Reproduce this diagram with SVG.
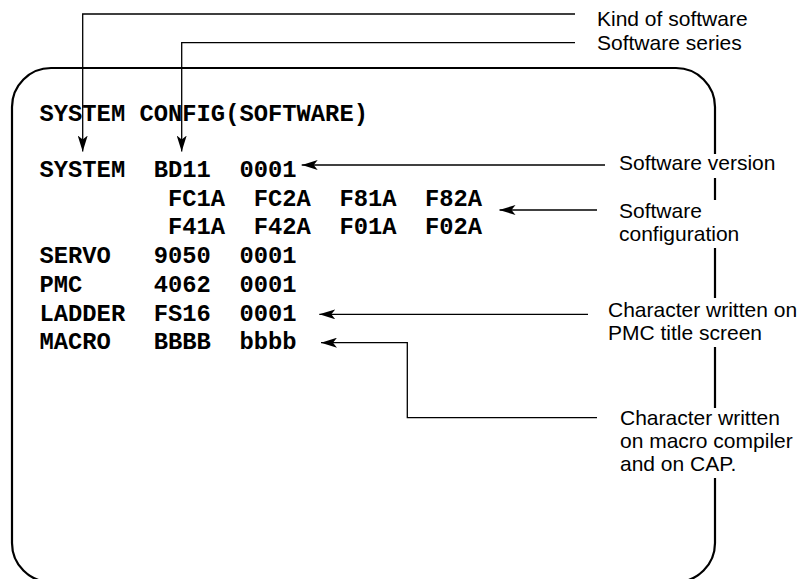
<svg xmlns="http://www.w3.org/2000/svg" width="807" height="579" viewBox="0 0 807 579">
<style>
.mono{font-family:"Liberation Mono","Courier New",monospace;font-weight:bold;font-size:23.8px;fill:#000}
.lbl{font-family:"Liberation Sans",Arial,sans-serif;font-size:21px;fill:#000}
.conn{fill:none;stroke:#000;stroke-width:1.3}
.bg{fill:#fff;stroke:none}
</style>
<defs>
<marker id="ah" viewBox="0 0 16 10" refX="16" refY="5" markerWidth="16" markerHeight="10" markerUnits="userSpaceOnUse" orient="auto">
<path d="M16,5 L0,0 L4,5 L0,10 Z" fill="#000"/>
</marker>
</defs>
<rect width="807" height="579" fill="#fff"/>
<g id="screen">
<rect x="12" y="68" width="703" height="514" rx="39" ry="39" fill="none" stroke="#000" stroke-width="2.2"/>
<text class="mono" x="39.5" y="120.7">SYSTEM CONFIG(SOFTWARE)</text>
<text class="mono" y="177"><tspan x="39.5">SYSTEM</tspan><tspan x="153.7">BD11</tspan><tspan x="239.4">0001</tspan></text>
<text class="mono" y="205.5"><tspan x="168">FC1A</tspan><tspan x="253.7">FC2A</tspan><tspan x="339.4">F81A</tspan><tspan x="425">F82A</tspan></text>
<text class="mono" y="234"><tspan x="168">F41A</tspan><tspan x="253.7">F42A</tspan><tspan x="339.4">F01A</tspan><tspan x="425">F02A</tspan></text>
<text class="mono" y="263"><tspan x="39.5">SERVO</tspan><tspan x="153.7">9050</tspan><tspan x="239.4">0001</tspan></text>
<text class="mono" y="291.5"><tspan x="39.5">PMC</tspan><tspan x="153.7">4062</tspan><tspan x="239.4">0001</tspan></text>
<text class="mono" y="320.5"><tspan x="39.5">LADDER</tspan><tspan x="153.7">FS16</tspan><tspan x="239.4">0001</tspan></text>
<text class="mono" y="349"><tspan x="39.5">MACRO</tspan><tspan x="153.7">BBBB</tspan><tspan x="239.4">bbbb</tspan></text>
</g>
<g id="connectors">
<path class="conn" d="M575,14 H82.7 V151.5" marker-end="url(#ah)"/>
<path class="conn" d="M575,42.7 H181.7 V151.5" marker-end="url(#ah)"/>
<path class="conn" d="M605,165 H301.7" marker-end="url(#ah)"/>
<path class="conn" d="M597,210 H499.5" marker-end="url(#ah)"/>
<path class="conn" d="M588,314.3 H319.3" marker-end="url(#ah)"/>
<path class="conn" d="M597,417.7 H407.3 V342.7 H321" marker-end="url(#ah)"/>
</g>
<g id="label-kind">
<text class="lbl" x="597" y="26">Kind of software</text>
</g>
<g id="label-series">
<text class="lbl" x="597" y="50">Software series</text>
</g>
<g id="label-version">
<rect class="bg" x="612" y="154" width="172" height="24"/>
<text class="lbl" x="619" y="170">Software version</text>
</g>
<g id="label-config">
<rect class="bg" x="612" y="200" width="130" height="48"/>
<text class="lbl" x="619" y="218">Software</text>
<text class="lbl" x="619" y="241">configuration</text>
</g>
<g id="label-pmc">
<rect class="bg" x="602" y="298" width="200" height="49"/>
<text class="lbl" x="608" y="317.3">Character written on</text>
<text class="lbl" x="608" y="340">PMC title screen</text>
</g>
<g id="label-macro">
<rect class="bg" x="612" y="408" width="190" height="70"/>
<text class="lbl" x="620" y="425">Character written</text>
<text class="lbl" x="620" y="447.5">on macro compiler</text>
<text class="lbl" x="620" y="470.5">and on CAP.</text>
</g>
</svg>
